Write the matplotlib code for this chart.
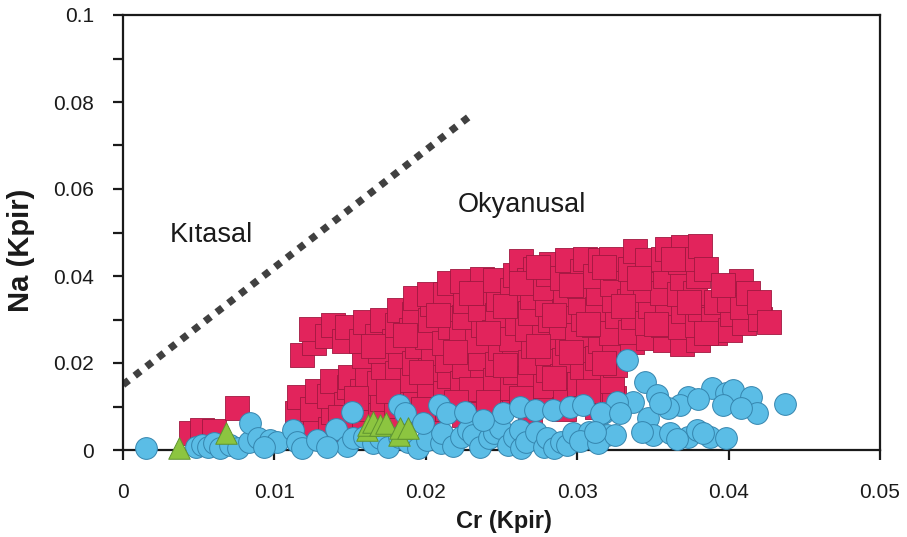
import matplotlib
matplotlib.use("Agg")
import matplotlib.pyplot as plt

plt.rcParams['font.family'] = ['Liberation Sans', 'DejaVu Sans']

# ---- data ----
# Red squares
sq_x = [
    0.0045, 0.0052, 0.0060, 0.0075,
    0.0117, 0.0115, 0.0116, 0.0118,
    0.0127, 0.0125, 0.0128, 0.0126, 0.0124,
    0.0137, 0.0139, 0.0136, 0.0138, 0.0135, 0.0139,
    0.0148, 0.0147, 0.0149, 0.0150, 0.0146, 0.0148,
    0.0159, 0.0160, 0.0158, 0.0161, 0.0159, 0.0157, 0.0160,
    0.0170, 0.0171, 0.0169, 0.0172, 0.0170, 0.0168, 0.0171,
    0.0181, 0.0180, 0.0182, 0.0181, 0.0183, 0.0179, 0.0181, 0.0182,
    0.0192, 0.0193, 0.0191, 0.0192, 0.0194, 0.0190, 0.0192, 0.0193,
    0.0203, 0.0204, 0.0202, 0.0203, 0.0205, 0.0201, 0.0203, 0.0204, 0.0202,
    0.0214, 0.0213, 0.0215, 0.0214, 0.0212, 0.0216, 0.0214, 0.0213, 0.0215,
    0.0225, 0.0226, 0.0224, 0.0225, 0.0227, 0.0223, 0.0225, 0.0226, 0.0224,
    0.0236, 0.0235, 0.0237, 0.0236, 0.0234, 0.0238, 0.0236, 0.0235, 0.0237,
    0.0247, 0.0248, 0.0246, 0.0247, 0.0249, 0.0245, 0.0247, 0.0248, 0.0246,
    0.0258, 0.0257, 0.0259, 0.0258, 0.0256, 0.0260, 0.0258, 0.0257, 0.0259, 0.0263,
    0.0269, 0.0270, 0.0268, 0.0269, 0.0271, 0.0267, 0.0269, 0.0270, 0.0268, 0.0272,
    0.0280, 0.0279, 0.0281, 0.0280, 0.0278, 0.0282, 0.0280, 0.0279, 0.0281, 0.0283,
    0.0291, 0.0292, 0.0290, 0.0291, 0.0293, 0.0289, 0.0291, 0.0292, 0.0290, 0.0293,
    0.0302, 0.0301, 0.0303, 0.0302, 0.0300, 0.0304, 0.0302, 0.0301, 0.0303, 0.0305,
    0.0313, 0.0314, 0.0312, 0.0313, 0.0315, 0.0311, 0.0313, 0.0314, 0.0312, 0.0315,
    0.0324, 0.0323, 0.0325, 0.0324, 0.0322, 0.0326, 0.0324, 0.0323, 0.0325, 0.0322,
    0.0336, 0.0335, 0.0337, 0.0334, 0.0336, 0.0335, 0.0338,
    0.0347, 0.0346, 0.0348, 0.0345, 0.0347, 0.0346,
    0.0358, 0.0357, 0.0359, 0.0356, 0.0358, 0.0357, 0.0359,
    0.0369, 0.0368, 0.0370, 0.0367, 0.0369, 0.0368, 0.0370,
    0.0380, 0.0379, 0.0381, 0.0378, 0.0380, 0.0379, 0.0381,
    0.0391, 0.0390, 0.0392, 0.0385,
    0.0401, 0.0402, 0.0400,
    0.0410, 0.0409, 0.0408, 0.0413,
    0.0421, 0.0420,
    0.0427,
    0.0175, 0.0186, 0.0197, 0.0208, 0.0219, 0.0230, 0.0230, 0.0241, 0.0252,
    0.0252, 0.0263, 0.0263, 0.0274, 0.0274, 0.0285, 0.0285, 0.0296, 0.0296,
    0.0307, 0.0307, 0.0318, 0.0318, 0.0330, 0.0341, 0.0352, 0.0363, 0.0374,
    0.0385, 0.0396, 0.0165, 0.0154, 0.0143, 0.0198, 0.0220, 0.0241,
]
sq_y = [
    0.0040, 0.0046, 0.0043, 0.0097,
    0.0050, 0.0085, 0.0122, 0.0218,
    0.0060, 0.0095, 0.0135, 0.0245, 0.0278,
    0.0048, 0.0088, 0.0125, 0.0158, 0.0262, 0.0288,
    0.0070, 0.0105, 0.0145, 0.0168, 0.0250, 0.0283,
    0.0055, 0.0095, 0.0135, 0.0170, 0.0215, 0.0250, 0.0294,
    0.0080, 0.0118, 0.0155, 0.0190, 0.0228, 0.0262, 0.0298,
    0.0065, 0.0102, 0.0140, 0.0178, 0.0215, 0.0250, 0.0288, 0.0322,
    0.0088, 0.0125, 0.0162, 0.0200, 0.0238, 0.0275, 0.0312, 0.0350,
    0.0072, 0.0110, 0.0148, 0.0185, 0.0222, 0.0260, 0.0298, 0.0335, 0.0358,
    0.0095, 0.0132, 0.0170, 0.0208, 0.0245, 0.0282, 0.0320, 0.0358, 0.0385,
    0.0080, 0.0118, 0.0155, 0.0192, 0.0230, 0.0268, 0.0305, 0.0342, 0.0388,
    0.0100, 0.0138, 0.0175, 0.0212, 0.0250, 0.0288, 0.0325, 0.0362, 0.0392,
    0.0085, 0.0122, 0.0160, 0.0198, 0.0235, 0.0272, 0.0310, 0.0348, 0.0390,
    0.0105, 0.0142, 0.0180, 0.0218, 0.0255, 0.0292, 0.0330, 0.0368, 0.0402, 0.0435,
    0.0090, 0.0128, 0.0165, 0.0202, 0.0240, 0.0278, 0.0315, 0.0352, 0.0390, 0.0415,
    0.0110, 0.0148, 0.0185, 0.0222, 0.0260, 0.0298, 0.0335, 0.0372, 0.0405, 0.0428,
    0.0095, 0.0132, 0.0170, 0.0208, 0.0245, 0.0282, 0.0320, 0.0358, 0.0395, 0.0436,
    0.0115, 0.0152, 0.0190, 0.0228, 0.0265, 0.0302, 0.0340, 0.0378, 0.0412, 0.0438,
    0.0100, 0.0138, 0.0175, 0.0212, 0.0250, 0.0288, 0.0325, 0.0362, 0.0400, 0.0437,
    0.0120, 0.0158, 0.0195, 0.0232, 0.0270, 0.0308, 0.0345, 0.0382, 0.0418, 0.0440,
    0.0248, 0.0272, 0.0305, 0.0342, 0.0378, 0.0415, 0.0457,
    0.0258, 0.0292, 0.0330, 0.0368, 0.0405, 0.0437,
    0.0252, 0.0288, 0.0325, 0.0362, 0.0400, 0.0440, 0.0463,
    0.0244, 0.0282, 0.0320, 0.0358, 0.0395, 0.0432, 0.0466,
    0.0252, 0.0288, 0.0325, 0.0362, 0.0400, 0.0440, 0.0468,
    0.0268, 0.0302, 0.0340, 0.0416,
    0.0275, 0.0312, 0.0345,
    0.0292, 0.0328, 0.0388, 0.0360,
    0.0302, 0.0340,
    0.0294,
    0.0135, 0.0265, 0.0180, 0.0310, 0.0225, 0.0140, 0.0360, 0.0270, 0.0195,
    0.0330, 0.0120, 0.0385, 0.0240, 0.0420, 0.0165, 0.0310, 0.0380, 0.0225,
    0.0135, 0.0290, 0.0420, 0.0200, 0.0330, 0.0395, 0.0290, 0.0440, 0.0340,
    0.0270, 0.0380, 0.0240, 0.0120, 0.0075, 0.0095, 0.0110, 0.0110,
]

# Blue circles
ci_x = [
    0.0015,
    0.0048, 0.0052, 0.0056, 0.0060, 0.0064, 0.0071, 0.0076, 0.0083, 0.0084,
    0.0089, 0.0097, 0.0102, 0.0093,
    0.0112, 0.0115, 0.0118, 0.0128, 0.0141, 0.0148, 0.0152, 0.0151, 0.0135,
    0.0159, 0.0165, 0.0170, 0.0175, 0.0182, 0.0188, 0.0195, 0.0201, 0.0210,
    0.0211, 0.0218, 0.0223, 0.0228, 0.0231, 0.0236, 0.0242, 0.0245, 0.0249,
    0.0254, 0.0258, 0.0262, 0.0263, 0.0266, 0.0273, 0.0278, 0.0280, 0.0285,
    0.0289, 0.0293, 0.0297, 0.0308, 0.0320, 0.0302, 0.0314,
    0.0182, 0.0186, 0.0209, 0.0214, 0.0226, 0.0251, 0.0262, 0.0272, 0.0284,
    0.0295, 0.0304, 0.0317, 0.0238, 0.0198,
    0.0333, 0.0345, 0.0353, 0.0373, 0.0389, 0.0398, 0.0403, 0.0415, 0.0419,
    0.0437, 0.0368, 0.0360, 0.0396, 0.0408, 0.0337, 0.0326, 0.0316, 0.0328,
    0.0347, 0.0380, 0.0355,
    0.0350, 0.0361, 0.0373, 0.0379, 0.0388, 0.0398, 0.0343, 0.0325, 0.0312,
    0.0366, 0.0383,
]
ci_y = [
    0.0005,
    0.0008, 0.0012, 0.0007, 0.0015, 0.0005, 0.0012, 0.0005, 0.0018, 0.0062,
    0.0028, 0.0023, 0.0018, 0.0008,
    0.0046, 0.0018, 0.0005, 0.0023, 0.0048, 0.0010, 0.0028, 0.0087, 0.0006,
    0.0030, 0.0015, 0.0028, 0.0008, 0.0030, 0.0018, 0.0005, 0.0023, 0.0015,
    0.0039, 0.0010, 0.0030, 0.0045, 0.0034, 0.0006, 0.0028, 0.0040, 0.0051,
    0.0012, 0.0030, 0.0045, 0.0005, 0.0018, 0.0041, 0.0008, 0.0028, 0.0004,
    0.0018, 0.0012, 0.0039, 0.0041, 0.0034, 0.0020, 0.0015,
    0.0103, 0.0085, 0.0103, 0.0085, 0.0087, 0.0085, 0.0099, 0.0092, 0.0092,
    0.0099, 0.0103, 0.0085, 0.0068, 0.0062,
    0.0207, 0.0156, 0.0127, 0.0122, 0.0142, 0.0131, 0.0138, 0.0122, 0.0085,
    0.0105, 0.0103, 0.0097, 0.0103, 0.0097, 0.0110, 0.0110, 0.0085, 0.0085,
    0.0074, 0.0118, 0.0108,
    0.0035, 0.0039, 0.0030, 0.0046, 0.0030, 0.0028, 0.0041, 0.0035, 0.0041,
    0.0025, 0.0038,
]

# Green triangles
tr_x = [0.0037, 0.0068, 0.0161, 0.0162, 0.0165, 0.0170, 0.0174, 0.0182, 0.0183, 0.0188]
tr_y = [0.0005, 0.0038, 0.0046, 0.0057, 0.0064, 0.0057, 0.0062, 0.0035, 0.0051, 0.0051]

# Boundary line (Kıtasal / Okyanusal)
line_x = [0.0, 0.023]
line_y = [0.015, 0.077]

x_ticks = [0, 0.01, 0.02, 0.03, 0.04, 0.05]
x_ticklabels = ["0", "0.01", "0.02", "0.03", "0.04", "0.05"]
y_ticks = [0, 0.02, 0.04, 0.06, 0.08, 0.1]
y_ticklabels = ["0", "0.02", "0.04", "0.06", "0.08", "0.1"]
y_minor = [0.01, 0.03, 0.05, 0.07, 0.09]

# ---- figure ----
fig = plt.figure(figsize=(9.07, 5.37), dpi=100)
ax = fig.add_axes([123 / 907, 87 / 537, 757 / 907, 435 / 537])

ax.plot(line_x, line_y, color="#404040", linewidth=5.2,
        linestyle=(0, (1, 1.05)), dash_capstyle="butt", zorder=2)

ax.scatter(sq_x, sq_y, marker="s", s=275, facecolor="#E2245C",
           edgecolor="#A01840", linewidth=0.6, zorder=3, clip_on=False)
ax.scatter(ci_x, ci_y, marker="o", s=245, facecolor="#5BBDE6",
           edgecolor="#3585AE", linewidth=0.7, zorder=4, clip_on=False)
ax.scatter(tr_x, tr_y, marker="^", s=240, facecolor="#8CC540",
           edgecolor="#5E9430", linewidth=0.7, zorder=5, clip_on=False)

ax.text(0.0031, 0.0478, "Kıtasal", fontsize=19.5, ha="left", va="baseline",
        color="#1a1a1a")
ax.text(0.0221, 0.0547, "Okyanusal", fontsize=19.5, ha="left", va="baseline",
        color="#1a1a1a")

ax.set_xlim(0, 0.05)
ax.set_ylim(0, 0.1)
ax.set_xticks(x_ticks)
ax.set_xticklabels(x_ticklabels)
ax.set_yticks(y_ticks)
ax.set_yticklabels(y_ticklabels)
ax.set_yticks(y_minor, minor=True)

for sp in ax.spines.values():
    sp.set_linewidth(1.6)
    sp.set_color("#1a1a1a")

ax.tick_params(axis="both", which="both", direction="out", length=7,
               width=1.6, color="#1a1a1a", labelsize=15, labelcolor="#1a1a1a")
ax.tick_params(axis="x", pad=17)
ax.tick_params(axis="y", pad=14)

ax.set_xlabel("Cr (Kpir)", fontsize=17, fontweight="bold", color="#1a1a1a")
ax.set_ylabel("Na (Kpir)", fontsize=21, fontweight="bold", color="#1a1a1a")
ax.xaxis.set_label_coords(0.503, -0.138)
ax.yaxis.set_label_coords(-0.116, 0.46)

fig.savefig("out.png", dpi=100)
